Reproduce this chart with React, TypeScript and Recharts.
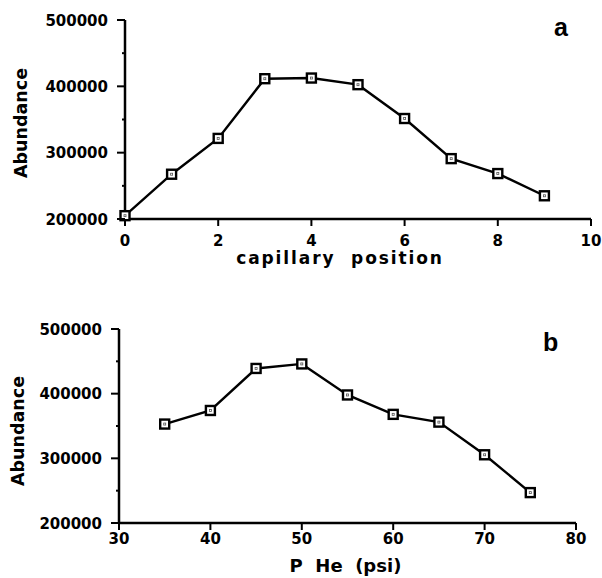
import React from "react";
import { Line, LineChart, XAxis, YAxis } from "recharts";

// panel a: abundance vs capillary position
const capillaryPositions = [0, 1, 2, 3, 4, 5, 6, 7, 8, 9];
const abundanceA = [205000, 267500, 321500, 411500, 412500, 402500, 351500, 291000, 268500, 235000];

// panel b: abundance vs helium pressure
const heliumPressures = [35, 40, 45, 50, 55, 60, 65, 70, 75];
const abundanceB = [353000, 374000, 439000, 446000, 398000, 368000, 356000, 305500, 247000];

const yTicks = [200000, 250000, 300000, 350000, 400000, 450000, 500000];
const xTicksA = [0, 2, 4, 6, 8, 10];
const xTicksB = [30, 40, 50, 60, 70, 80];

const dataA = capillaryPositions.map((x, i) => ({ x, y: abundanceA[i] }));
const dataB = heliumPressures.map((x, i) => ({ x, y: abundanceB[i] }));

const TICK_FONT = "'DejaVu Sans', sans-serif";

function YTick(props: any) {
  const { x, y, payload } = props;
  const major = payload.value % 100000 === 0;
  return (
    <g>
      <line x1={x - (major ? 8 : 3)} y1={y} x2={x} y2={y} stroke="#000" strokeWidth={2} />
      {major && (
        <text
          x={x - 17}
          y={y}
          dy={5.5}
          textAnchor="end"
          fontFamily={TICK_FONT}
          fontWeight="bold"
          fontSize={15}
          fill="#000"
        >
          {payload.value}
        </text>
      )}
    </g>
  );
}

function makeXTick(labelOffset: number) {
  return function XTick(props: any) {
    const { x, y, payload } = props;
    return (
      <g>
        <line x1={x} y1={y} x2={x} y2={y + 7} stroke="#000" strokeWidth={2} />
        <text
          x={x}
          y={y + labelOffset}
          dy={5.5}
          textAnchor="middle"
          fontFamily={TICK_FONT}
          fontWeight="bold"
          fontSize={15}
          fill="#000"
        >
          {payload.value}
        </text>
      </g>
    );
  };
}

function SquareDot(props: any) {
  const { cx, cy, index } = props;
  if (cx == null || cy == null) return null;
  return (
    <g key={`dot-${index}`}>
      <rect x={cx - 4.5} y={cy - 4.5} width={9} height={9} fill="#fff" stroke="#000" strokeWidth={2.4} />
      <rect x={cx - 1} y={cy - 1} width={2} height={2} fill="none" stroke="#555" strokeWidth={0.8} />
    </g>
  );
}

function yTitle(dx: number, dy: number) {
  return (props: any) => {
    const vb = props.viewBox;
    const cx = vb.x + dx;
    const cy = vb.y + vb.height / 2 + dy;
    return (
      <text
        x={cx}
        y={cy}
        transform={`rotate(-90 ${cx} ${cy})`}
        textAnchor="middle"
        dominantBaseline="central"
        fontFamily={TICK_FONT}
        fontWeight="bold"
        fontSize={17.5}
        fill="#000"
      >
        Abundance
      </text>
    );
  };
}

function xTitle(text: string, dx: number, baseline: number, size: number, spacing: number) {
  return (props: any) => {
    const vb = props.viewBox;
    return (
      <text
        x={vb.x + vb.width / 2 + dx}
        y={vb.y + baseline}
        textAnchor="middle"
        fontFamily={TICK_FONT}
        fontWeight="bold"
        fontSize={size}
        letterSpacing={spacing}
        fill="#000"
        style={{ whiteSpace: "pre" }}
      >
        {text}
      </text>
    );
  };
}

const axisLine = { stroke: "#000", strokeWidth: 2.5 };

export default function App() {
  return (
    <div style={{ position: "absolute", left: 0, top: 0, width: 602, height: 578, background: "#fff" }}>
      <div style={{ position: "absolute", left: 0, top: 0 }}>
        <LineChart width={602} height={290} data={dataA} margin={{ top: 20, right: 11, left: 0, bottom: 0 }}>
          <XAxis
            dataKey="x"
            type="number"
            domain={[0, 10]}
            ticks={xTicksA}
            interval={0}
            axisLine={axisLine}
            tickLine={false}
            tickSize={0}
            tickMargin={0}
            height={71}
            tick={makeXTick(21)}
            label={{ content: xTitle("capillary  position", -18, 45, 17, 1.9) }}
          />
          <YAxis
            type="number"
            domain={[200000, 500000]}
            ticks={yTicks}
            interval={0}
            axisLine={axisLine}
            tickLine={false}
            tickSize={0}
            tickMargin={0}
            width={125}
            tick={<YTick />}
            label={{ content: yTitle(21, 3.5) }}
          />
          <Line
            dataKey="y"
            type="linear"
            stroke="#000"
            strokeWidth={2.4}
            dot={<SquareDot />}
            activeDot={false}
            isAnimationActive={false}
          />
        </LineChart>
      </div>
      <div style={{ position: "absolute", left: 0, top: 290 }}>
        <LineChart width={602} height={288} data={dataB} margin={{ top: 39, right: 26, left: 0, bottom: 0 }}>
          <XAxis
            dataKey="x"
            type="number"
            domain={[30, 80]}
            ticks={xTicksB}
            interval={0}
            axisLine={axisLine}
            tickLine={false}
            tickSize={0}
            tickMargin={0}
            height={55}
            tick={makeXTick(15)}
            label={{ content: xTitle("P  He  (psi)", -2, 49, 18, 0) }}
          />
          <YAxis
            type="number"
            domain={[200000, 500000]}
            ticks={yTicks}
            interval={0}
            axisLine={axisLine}
            tickLine={false}
            tickSize={0}
            tickMargin={0}
            width={119}
            tick={<YTick />}
            label={{ content: yTitle(18, 5) }}
          />
          <Line
            dataKey="y"
            type="linear"
            stroke="#000"
            strokeWidth={2.4}
            dot={<SquareDot />}
            activeDot={false}
            isAnimationActive={false}
          />
        </LineChart>
      </div>
      <div
        style={{
          position: "absolute",
          left: 554,
          top: 12,
          fontFamily: "'Liberation Sans', sans-serif",
          fontWeight: "bold",
          fontSize: 25,
          lineHeight: "30px",
        }}
      >
        a
      </div>
      <div
        style={{
          position: "absolute",
          left: 543,
          top: 327,
          fontFamily: "'Liberation Sans', sans-serif",
          fontWeight: "bold",
          fontSize: 25,
          lineHeight: "30px",
        }}
      >
        b
      </div>
    </div>
  );
}
